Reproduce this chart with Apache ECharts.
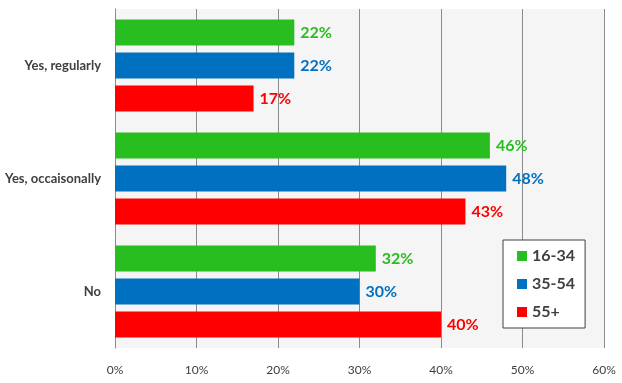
<!DOCTYPE html>
<html><head><meta charset="utf-8">
<script src="https://cdn.jsdelivr.net/npm/echarts@6/dist/echarts.min.js"></script>
<style>html,body{margin:0;padding:0;background:#fff}#c{width:622px;height:383px}</style>
</head><body><div id="c"></div>
<script>
const categories = ['Yes, regularly', 'Yes, occaisonally', 'No'];
const seriesNames = ['16-34', '35-54', '55+'];
const values1634 = [22, 46, 32];
const values3554 = [22, 48, 30];
const values55 = [17, 43, 40];
const xTicks = [0, 10, 20, 30, 40, 50, 60];
const colors = ['#28be20', '#0070c0', '#ff0000'];
const allValues = [values1634, values3554, values55];

const chart = echarts.init(document.getElementById('c'), null, {renderer: 'canvas'});
const font = 'Lato, "Open Sans", sans-serif';
chart.setOption({
  animation: false,
  textStyle: {fontFamily: font},
  grid: {left: 115, right: 18, top: 9, bottom: 35, show: true, backgroundColor: '#f5f5f5', borderWidth: 0},
  legend: {
    orient: 'vertical', left: 503, top: 240,
    backgroundColor: '#fff', borderColor: '#404040', borderWidth: 1,
    padding: [8, 10, 8, 14], itemGap: 12, itemWidth: 10, itemHeight: 10, itemTextGap: 6,
    icon: 'rect',
    textStyle: {fontSize: 16, fontWeight: 'bold', color: '#404040', fontFamily: font},
    data: seriesNames
  },
  xAxis: {
    type: 'value', min: xTicks[0], max: xTicks[xTicks.length - 1], interval: 10,
    axisLine: {show: false}, axisTick: {show: false},
    splitLine: {lineStyle: {color: '#8c8c8c', width: 1}},
    axisLabel: {formatter: '{value}%', color: '#404040', fontSize: 12, margin: 16, fontFamily: font}
  },
  yAxis: {
    type: 'category', data: categories, inverse: true,
    axisLine: {show: true, lineStyle: {color: '#8c8c8c'}}, axisTick: {show: false},
    axisLabel: {color: '#404040', fontSize: 13, fontWeight: 'bold', margin: 14, fontFamily: font}
  },
  series: seriesNames.map((n, i) => ({
    name: n, type: 'bar', data: allValues[i], barWidth: 26, barGap: '27%',
    itemStyle: {color: colors[i]},
    label: {show: true, position: 'right', distance: 6, formatter: '{c}%', color: colors[i],
            fontSize: 16, fontWeight: 'bold', fontFamily: font}
  }))
});
</script></body></html>
